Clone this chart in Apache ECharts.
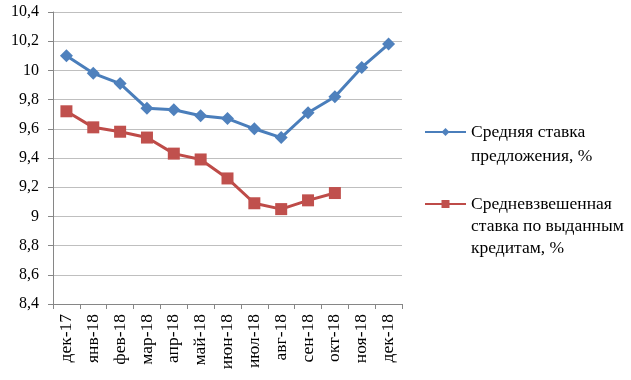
<!DOCTYPE html>
<html><head><meta charset="utf-8">
<script src="https://cdn.jsdelivr.net/npm/echarts@6/dist/echarts.min.js"></script>
<style>html,body{margin:0;padding:0;background:#fff}#c{width:631px;height:380px}</style>
</head><body><div id="c"></div>
<script>
const categories = ['дек-17','янв-18','фев-18','мар-18','апр-18','май-18','июн-18','июл-18','авг-18','сен-18','окт-18','ноя-18','дек-18'];
const offerRate = [10.10, 9.98, 9.91, 9.74, 9.73, 9.69, 9.67, 9.60, 9.54, 9.71, 9.82, 10.02, 10.18];
const issuedRate = [9.72, 9.61, 9.58, 9.54, 9.43, 9.39, 9.26, 9.09, 9.05, 9.11, 9.16, null, null];
const seriesNames = ['Средняя ставка предложения, %', 'Средневзвешенная ставка по выданным кредитам, %'];
const legendLines = [['Средняя ставка', 'предложения, %'], ['Средневзвешенная', 'ставка по выданным', 'кредитам, %']];
const yMin = 8.4, yMax = 10.4, yStep = 0.2;

const font = 'Liberation Serif, Times New Roman, serif';
// pad with leading empty lines so the icon lines up with the first text line
function legendText(lines) {
  return '\n'.repeat(lines.length - 1) + lines.join('\n');
}
const chart = echarts.init(document.getElementById('c'), null, {renderer: 'canvas'});
chart.setOption({
  animation: false,
  textStyle: {fontFamily: font},
  grid: {left: 53, right: 229, top: 12, bottom: 76, containLabel: false},
  xAxis: {
    type: 'category', data: categories, boundaryGap: true,
    axisLine: {lineStyle: {color: '#868686', width: 1}},
    axisTick: {show: true, length: 5, lineStyle: {color: '#868686'}},
    axisLabel: {rotate: 90, margin: 10, color: '#000', fontSize: 17.5, fontFamily: font, interval: 0}
  },
  yAxis: {
    type: 'value', min: yMin, max: yMax, interval: yStep,
    axisLine: {show: true, lineStyle: {color: '#868686', width: 1}},
    axisTick: {show: true, length: 5, lineStyle: {color: '#868686'}},
    splitLine: {lineStyle: {color: '#bfbfbf', width: 1}},
    axisLabel: {margin: 14, color: '#000', fontSize: 16, fontFamily: font,
      formatter: v => String(Math.round(v * 10) / 10).replace('.', ',')}
  },
  legend: [
    {data: [seriesNames[0]], orient: 'vertical', left: 419, top: 91, itemWidth: 41, itemHeight: 10, itemGap: 0,
     formatter: () => legendText(legendLines[0]),
     textStyle: {fontSize: 17.5, fontFamily: font, color: '#000', lineHeight: 24}},
    {data: [seriesNames[1]], orient: 'vertical', left: 419, top: 144, itemWidth: 41, itemHeight: 10, itemGap: 0,
     formatter: () => legendText(legendLines[1]),
     textStyle: {fontSize: 17.5, fontFamily: font, color: '#000', lineHeight: 22}}
  ],
  series: [
    {name: seriesNames[0], type: 'line', data: offerRate, symbol: 'diamond', symbolSize: 13,
     lineStyle: {color: '#4A7EBB', width: 3}, itemStyle: {color: '#4F81BD'}},
    {name: seriesNames[1], type: 'line', data: issuedRate, symbol: 'rect', symbolSize: 12,
     lineStyle: {color: '#BE4B48', width: 3}, itemStyle: {color: '#C0504D'}}
  ]
});
</script></body></html>
